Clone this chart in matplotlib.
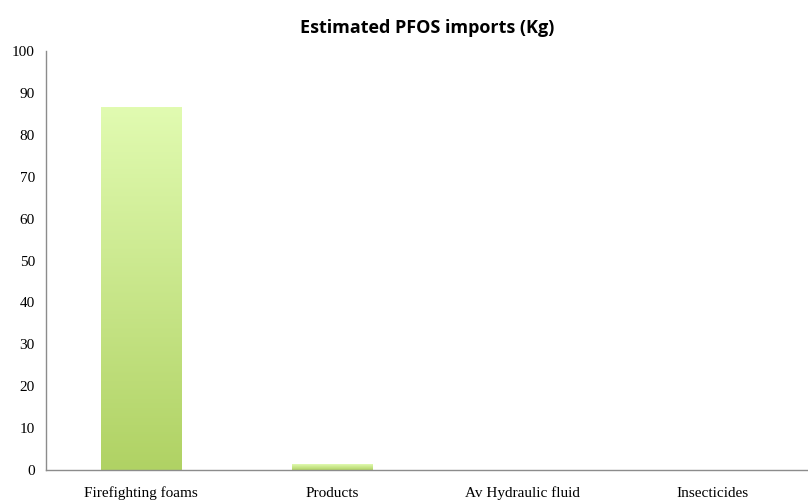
import matplotlib
matplotlib.use("Agg")
import matplotlib.pyplot as plt
import numpy as np
from matplotlib.colors import LinearSegmentedColormap

categories = ["Firefighting foams", "Products", "Av Hydraulic fluid", "Insecticides"]
values = [86.6, 1.2, 0.0, 0.0]
yticks = [0, 10, 20, 30, 40, 50, 60, 70, 80, 90, 100]

fig = plt.figure(figsize=(8.08, 5.0), dpi=100)
ax = fig.add_axes([46/808, 30/500, 762/808, 419/500])

x = np.arange(len(categories))
width = 0.42
bars = ax.bar(x, values, width=width, color="none", edgecolor="none", zorder=2)

cmap = LinearSegmentedColormap.from_list("g", ["#b0d264", "#e1fbb1"])
grad = np.linspace(0, 1, 256).reshape(-1, 1)
for b in bars:
    h = b.get_height()
    if h <= 0:
        continue
    x0 = b.get_x()
    im = ax.imshow(grad, extent=[x0, x0 + b.get_width(), 0, h], origin="lower",
                   cmap=cmap, aspect="auto", zorder=2, vmin=0, vmax=1)
    # color scaled relative to full 100 range for short bars
    if h < 10:
        im.set_clim(0, h / 86.6 if h > 0 else 1)
        im.set_data(np.linspace(0, h / 86.6, 256).reshape(-1, 1))

ax.set_xlim(-0.5, len(categories) - 0.5)
ax.set_ylim(0, 100)
ax.set_yticks(yticks)
ax.set_xticks(x)
ax.set_xticklabels(categories)
for lab in ax.get_xticklabels() + ax.get_yticklabels():
    lab.set_fontfamily("Liberation Serif")
    lab.set_fontsize(11)
ax.tick_params(axis="both", length=0, pad=8)
ax.tick_params(axis="x", pad=12)
for s in ["top", "right"]:
    ax.spines[s].set_visible(False)
for s in ["left", "bottom"]:
    ax.spines[s].set_color("#8c8c8c")
    ax.spines[s].set_linewidth(1.0)

fig.suptitle("Estimated PFOS imports (Kg)", x=(46 + 808) / 2 / 808, y=1 - 28/500,
             va="center", fontsize=13, fontweight="bold", fontfamily="Open Sans")

fig.savefig("out.png", dpi=100)
